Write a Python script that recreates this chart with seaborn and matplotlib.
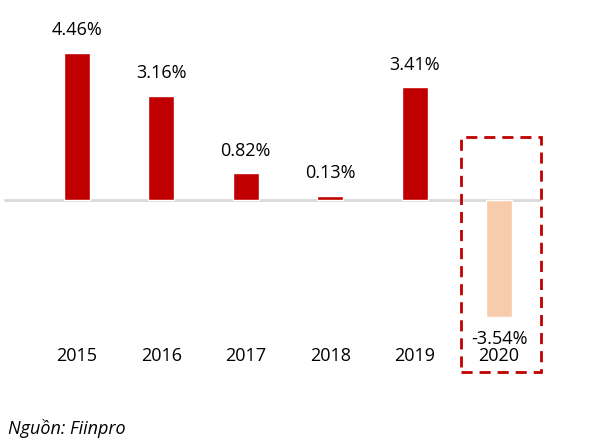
import matplotlib
matplotlib.use("Agg")
import matplotlib.pyplot as plt
import seaborn as sns
import pandas as pd
from matplotlib.patches import Rectangle

years = ["2015", "2016", "2017", "2018", "2019", "2020"]
values = [4.46, 3.16, 0.82, 0.13, 3.41, -3.54]
labels = ["4.46%", "3.16%", "0.82%", "0.13%", "3.41%", "-3.54%"]
colors = ["#C00000", "#C00000", "#C00000", "#C00000", "#C00000", "#F8CBAD"]
source = "Nguồn: Fiinpro"

sns.set_theme(style="white")
plt.rcParams["font.family"] = ["Open Sans", "DejaVu Sans"]

df = pd.DataFrame({"year": years, "value": values})

fig = plt.figure(figsize=(6.09, 4.45), dpi=100)
ax = fig.add_axes([0, 0, 1, 1])
sns.barplot(data=df, x="year", y="value", hue="year", palette=colors,
            width=0.31, legend=False, ax=ax, saturation=1)

px_per_unit = 84.4
x0 = 77
ax.set_xlim(-x0 / px_per_unit, (609 - x0) / px_per_unit)
ax.set_ylim(-245 / 33.0, 200 / 33.0)
ax.axhline(0, xmin=5 / 609, xmax=540 / 609, color="#D9D9D9", lw=2, zorder=0)

fs = 13
for i, (v, lab) in enumerate(zip(values, labels)):
    if v >= 0:
        ax.text(i, v + 0.68, lab, ha="center", va="center", fontsize=fs, color="#000000")
    else:
        ax.text(i, v - 0.68, lab, ha="center", va="center", fontsize=fs, color="#000000")
    ax.text(i, -4.72, years[i], ha="center", va="center", fontsize=fs, color="#000000")

rect = Rectangle((4.55, -5.21), 0.95, 1.91 + 5.21, fill=False, edgecolor="#C00000",
                 lw=2, linestyle=(0, (4, 2.5)), zorder=5)
ax.add_patch(rect)

ax.axis("off")
fig.text(8 / 609, 1 - 428 / 445, source, ha="left", va="center", fontsize=13,
         style="italic", color="#000000")

fig.savefig("out.png", dpi=100)
